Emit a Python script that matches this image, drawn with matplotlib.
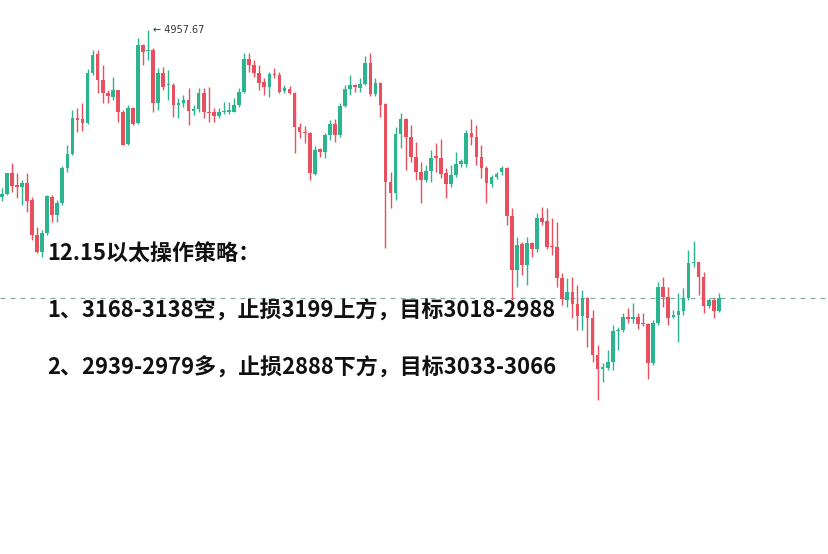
import numpy as np
import matplotlib
matplotlib.use('Agg')
import matplotlib.pyplot as plt

plt.rcParams['font.family'] = ['Noto Sans CJK SC', 'DejaVu Sans']

# OHLC, one candle per bar
opens = [4791, 4794, 4815, 4803, 4801, 4805, 4788, 4753, 4736, 4755,
         4791, 4773, 4785, 4820, 4834, 4870, 4869, 4865, 4915, 4934,
         4908, 4895, 4891, 4898, 4876, 4844, 4880, 4865, 4943, 4937,
         4938, 4885, 4915, 4903, 4903, 4883, 4885, 4888, 4877, 4879,
         4895, 4876, 4876, 4872, 4876, 4876, 4876, 4883, 4896, 4929,
         4923, 4915, 4906, 4901, 4914, 4913, 4897, 4899, 4895, 4861,
         4856, 4855, 4814, 4839, 4836, 4853, 4864, 4853, 4882, 4899,
         4903, 4900, 4904, 4925, 4894, 4905, 4884, 4806, 4795, 4854,
         4869, 4851, 4831, 4816, 4808, 4817, 4832, 4830, 4815, 4804,
         4813, 4824, 4824, 4855, 4851, 4831, 4820, 4804, 4811, 4816,
         4820, 4772, 4718, 4744, 4723, 4745, 4739, 4770, 4767, 4742,
         4741, 4710, 4688, 4696, 4684, 4672, 4690, 4670, 4633, 4619,
         4620, 4626, 4657, 4658, 4671, 4669, 4671, 4665, 4664, 4625,
         4665, 4701, 4691, 4671, 4673, 4677, 4690, 4725, 4726, 4711,
         4682, 4688, 4677]
highs = [4800, 4815, 4825, 4815, 4808, 4815, 4791, 4761, 4758, 4793,
         4793, 4788, 4822, 4843, 4878, 4880, 4885, 4919, 4938, 4938,
         4923, 4898, 4911, 4898, 4878, 4883, 4881, 4950, 4944, 4958,
         4940, 4920, 4921, 4918, 4905, 4890, 4893, 4900, 4883, 4900,
         4900, 4901, 4880, 4880, 4886, 4886, 4890, 4900, 4935, 4935,
         4928, 4923, 4910, 4916, 4920, 4916, 4903, 4902, 4896, 4865,
         4862, 4856, 4842, 4840, 4855, 4868, 4869, 4885, 4903, 4913,
         4904, 4910, 4932, 4935, 4910, 4906, 4885, 4816, 4861, 4875,
         4870, 4863, 4846, 4826, 4823, 4838, 4845, 4849, 4820, 4823,
         4836, 4829, 4858, 4869, 4863, 4843, 4822, 4813, 4816, 4822,
         4821, 4780, 4751, 4746, 4751, 4746, 4775, 4781, 4780, 4770,
         4766, 4715, 4710, 4711, 4703, 4698, 4691, 4678, 4643, 4625,
         4638, 4663, 4661, 4675, 4680, 4685, 4675, 4675, 4665, 4668,
         4706, 4711, 4701, 4678, 4695, 4700, 4738, 4747, 4726, 4716,
         4690, 4690, 4695]
lows = [4787, 4793, 4796, 4790, 4783, 4776, 4748, 4735, 4731, 4753,
        4766, 4766, 4783, 4816, 4833, 4856, 4857, 4864, 4913, 4895,
        4885, 4885, 4888, 4866, 4843, 4843, 4863, 4864, 4923, 4928,
        4876, 4878, 4898, 4888, 4871, 4870, 4881, 4863, 4873, 4876,
        4870, 4866, 4866, 4870, 4874, 4874, 4876, 4881, 4895, 4916,
        4911, 4898, 4893, 4891, 4910, 4895, 4895, 4894, 4835, 4850,
        4845, 4808, 4813, 4831, 4830, 4848, 4846, 4851, 4881, 4893,
        4896, 4896, 4903, 4892, 4892, 4871, 4740, 4780, 4788, 4840,
        4818, 4826, 4808, 4785, 4806, 4806, 4816, 4810, 4790, 4801,
        4811, 4821, 4821, 4843, 4823, 4810, 4785, 4801, 4809, 4813,
        4763, 4688, 4701, 4713, 4703, 4731, 4736, 4763, 4739, 4733,
        4701, 4683, 4681, 4670, 4658, 4658, 4641, 4626, 4588, 4606,
        4618, 4618, 4638, 4656, 4665, 4665, 4659, 4662, 4609, 4623,
        4663, 4681, 4663, 4670, 4646, 4673, 4688, 4721, 4693, 4675,
        4680, 4670, 4676]
closes = [4794, 4815, 4802, 4801, 4805, 4787, 4753, 4736, 4755, 4792,
          4773, 4785, 4820, 4834, 4870, 4868, 4865, 4915, 4933, 4908,
          4895, 4892, 4898, 4876, 4843, 4880, 4864, 4943, 4936, 4938,
          4885, 4915, 4901, 4904, 4883, 4885, 4888, 4877, 4879, 4895,
          4876, 4875, 4872, 4876, 4877, 4878, 4883, 4896, 4929, 4923,
          4915, 4905, 4901, 4914, 4913, 4896, 4900, 4895, 4861, 4856,
          4855, 4815, 4838, 4836, 4853, 4864, 4853, 4882, 4899, 4903,
          4901, 4904, 4925, 4894, 4905, 4883, 4806, 4795, 4854, 4869,
          4851, 4831, 4816, 4808, 4817, 4830, 4830, 4814, 4804, 4813,
          4824, 4827, 4855, 4851, 4831, 4820, 4805, 4811, 4814, 4820,
          4772, 4718, 4743, 4723, 4745, 4739, 4770, 4766, 4741, 4741,
          4710, 4689, 4696, 4684, 4672, 4690, 4670, 4633, 4619, 4621,
          4626, 4657, 4658, 4671, 4669, 4671, 4664, 4664, 4625, 4665,
          4701, 4691, 4670, 4673, 4677, 4690, 4725, 4726, 4711, 4682,
          4688, 4677, 4690]

last_price = 4690
peak_label = '4957.67'
title = '12.15以太操作策略：'
plan_lines = ['1、3168-3138空，止损3199上方，目标3018-2988',
              '2、2939-2979多，止损2888下方，目标3033-3066']

up_color = '#2bb48d'
down_color = '#e9505f'

W, H = 829, 554
fig = plt.figure(figsize=(W / 100, H / 100), dpi=100)
ax = fig.add_axes([0, 0, 1, 1])
ax.set_axis_off()

o = np.array(opens)
h = np.array(highs)
l = np.array(lows)
c = np.array(closes)
x = np.arange(len(o))
colors = np.where(c >= o, up_color, down_color)

ax.vlines(x, l, h, colors=colors, linewidth=1.0, zorder=2)
body_bottom = np.minimum(o, c)
body_height = np.maximum(np.abs(c - o), 1.2)
ax.bar(x, body_height, bottom=body_bottom, width=0.72, color=colors,
       linewidth=0, zorder=3)

ax.axhline(last_price, color='#86aca5', linewidth=0.9, linestyle=(0, (4, 4)), zorder=1)

# 5.05 px per candle, first candle centred at x=1.7 px
step = 5.05
ax.set_xlim(-1.7 / step, (W - 1.7) / step)
ax.set_ylim(last_price - (H - 298), last_price + 298)

peak_i = int(np.argmax(h))
ax.annotate('\u2190 ' + peak_label, xy=(peak_i, h[peak_i]), xytext=(3.5, 0),
            textcoords='offset points', fontsize=7, color='#333333',
            va='center', ha='left', family=['DejaVu Sans'])

fig.text(47 / W, 1 - 254 / H, title, fontsize=15.85, fontweight='bold',
         color='#111111', va='center', ha='left')
for k, line in enumerate(plan_lines):
    fig.text(47 / W, 1 - (311 + 57 * k) / H, line, fontsize=15.85,
             fontweight='bold', color='#111111', va='center', ha='left')

fig.savefig('out.png', dpi=100, facecolor='white')
